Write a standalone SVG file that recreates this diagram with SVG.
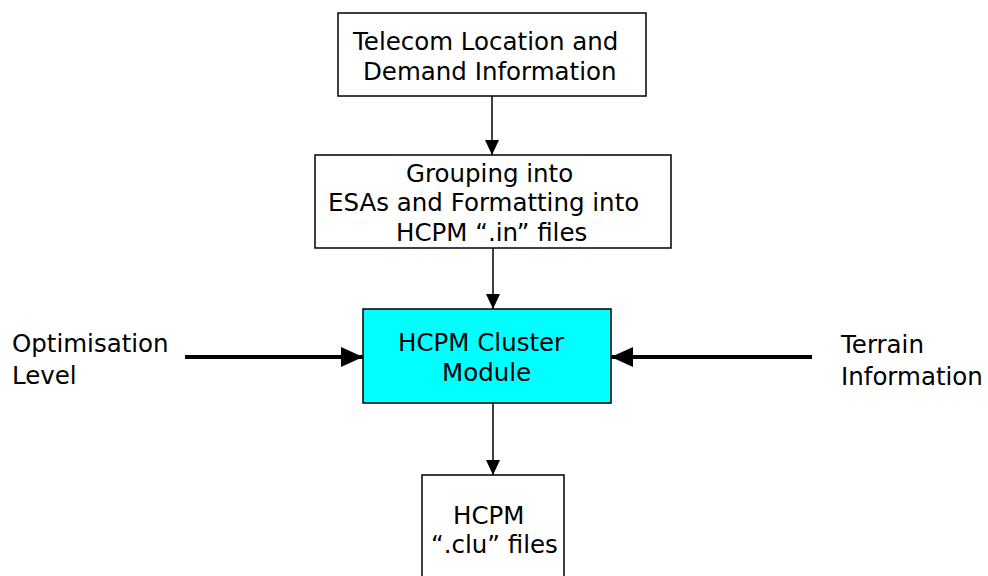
<svg xmlns="http://www.w3.org/2000/svg" width="988" height="576" viewBox="0 0 988 576">
<style>
text{font-family:"DejaVu Sans","Liberation Sans",sans-serif;font-size:24.5px;fill:#000}
.box{fill:#fff;stroke:#000;stroke-width:1.5}
.cyan{fill:#00ffff;stroke:#000;stroke-width:1.5}
.thin{stroke:#000;stroke-width:1.5;fill:none}
.thick{stroke:#000;stroke-width:4;fill:none}
</style>
<defs>
<marker id="ah" markerUnits="userSpaceOnUse" markerWidth="15" markerHeight="14" refX="15" refY="7" orient="auto"><path d="M0,0 L15,7 L0,14 Z" fill="#000"/></marker>
<marker id="ahb" markerUnits="userSpaceOnUse" markerWidth="22" markerHeight="22" refX="22" refY="11" orient="auto"><path d="M0,1 L22,11 L0,21 Z" fill="#000"/></marker>
</defs>
<rect width="988" height="576" fill="#fff"/>
<g id="connectors">
<line class="thin" x1="492" y1="96" x2="492" y2="155" marker-end="url(#ah)"/>
<line class="thin" x1="493" y1="248" x2="493" y2="309" marker-end="url(#ah)"/>
<line class="thin" x1="493" y1="403" x2="493" y2="475" marker-end="url(#ah)"/>
<line class="thick" x1="185" y1="357" x2="363" y2="357" marker-end="url(#ahb)"/>
<line class="thick" x1="812" y1="357" x2="611" y2="357" marker-end="url(#ahb)"/>
</g>
<g id="telecom">
<rect class="box" x="338" y="13" width="308" height="83"/>
<text x="353" y="50">Telecom Location and</text>
<text x="363" y="80">Demand Information</text>
</g>
<g id="grouping">
<rect class="box" x="315" y="155" width="356" height="93"/>
<text x="406" y="182">Grouping into</text>
<text x="328" y="211">ESAs and Formatting into</text>
<text x="396" y="241">HCPM “.in” files</text>
</g>
<g id="cluster">
<rect class="cyan" x="363" y="309" width="248" height="94"/>
<text x="398" y="351">HCPM Cluster</text>
<text x="442" y="381">Module</text>
</g>
<g id="clu">
<rect class="box" x="422" y="475" width="142" height="120"/>
<text x="453" y="524">HCPM</text>
<text x="431" y="553">“.clu” files</text>
</g>
<g id="optimisation">
<text x="12" y="352">Optimisation</text>
<text x="12" y="384">Level</text>
</g>
<g id="terrain">
<text x="841" y="353">Terrain</text>
<text x="841" y="385">Information</text>
</g>
</svg>
